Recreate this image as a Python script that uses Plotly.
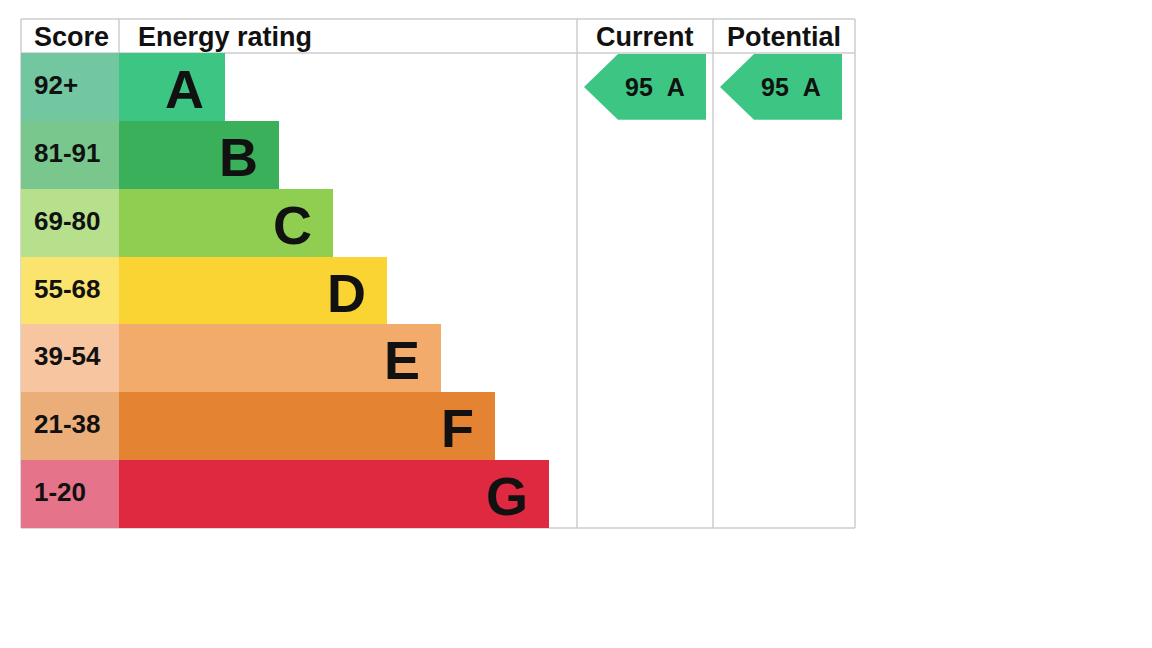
import plotly.graph_objects as go

# ---- data ----
ratings = ["A", "B", "C", "D", "E", "F", "G"]
score_ranges = ["92+", "81-91", "69-80", "55-68", "39-54", "21-38", "1-20"]
band_min = [92, 81, 69, 55, 39, 21, 1]
rating_rank = [1, 2, 3, 4, 5, 6, 7]
bar_colors = ["#3dc683", "#3bb05b", "#8fce50", "#f9d432", "#f2ab6b", "#e48433", "#de2941"]
score_colors = ["#72c7a1", "#79c78c", "#b6e08c", "#fae46d", "#f7c6a1", "#ecae79", "#e5738a"]
current_score = 95
potential_score = 95
headers = ["Score", "Energy rating", "Current", "Potential"]

# ---- layout geometry (pixels) ----
W, H = 1152, 648
TOP, HEAD_BOT, BOT = 19, 53, 528
X_LEFT, X_SCORE, X_CUR, X_POT, X_RIGHT = 21, 119, 577, 713, 855
BAR_BASE_LEN, BAR_STEP = 52, 54
LINE = "#cccccc"
FONT = "Liberation Sans, Arial, sans-serif"

rows = list(range(len(ratings)))
bar_len = [BAR_BASE_LEN + BAR_STEP * k for k in rating_rank]


def rating_index(score):
    for i, m in enumerate(band_min):
        if score >= m:
            return i
    return len(band_min) - 1


fig = go.Figure()

# score cells
fig.add_trace(go.Bar(
    orientation="h", y=rows, x=[X_SCORE - X_LEFT] * len(rows), base=X_LEFT,
    width=1, marker=dict(color=score_colors, line=dict(width=0)),
    hoverinfo="skip", showlegend=False))

# energy rating bars
fig.add_trace(go.Bar(
    orientation="h", y=rows, x=bar_len, base=X_SCORE,
    width=1, marker=dict(color=bar_colors, line=dict(width=0)),
    hoverinfo="skip", showlegend=False))

annotations = []

# score labels
for r, s in zip(rows, score_ranges):
    annotations.append(dict(x=X_LEFT + 11, y=r, xref="x", yref="y", text=f"<b>{s}</b>",
                            showarrow=False, xanchor="left", yanchor="middle", yshift=2,
                            font=dict(family=FONT, size=26, color="#111111")))

# rating letters
for r, L, lt in zip(rows, bar_len, ratings):
    annotations.append(dict(x=X_SCORE + L - 19, y=r, xref="x", yref="y", text=f"<b>{lt}</b>",
                            showarrow=False, xanchor="right", yanchor="middle", yshift=-2,
                            font=dict(family=FONT, size=54, color="#111111")))

# arrows for current / potential
ARROW_W, ARROW_HALF, ARROW_TIP = 122, 0.485, 34
for col_left, score in [(X_CUR, current_score), (X_POT, potential_score)]:
    r = rating_index(score)
    tip = col_left + 7
    right = tip + ARROW_W
    sh = tip + ARROW_TIP
    fig.add_trace(go.Scatter(
        x=[tip, sh, right, right, sh, tip],
        y=[r, r - ARROW_HALF, r - ARROW_HALF, r + ARROW_HALF, r + ARROW_HALF, r],
        fill="toself", fillcolor=bar_colors[r], line=dict(width=0, color=bar_colors[r]),
        mode="lines", hoverinfo="skip", showlegend=False))
    annotations.append(dict(x=tip + 71, y=r, xref="x", yref="y",
                            text=f"<b>{score}\u00a0\u00a0{ratings[r]}</b>",
                            showarrow=False, xanchor="center", yanchor="middle", yshift=0,
                            font=dict(family=FONT, size=25, color="#111111")))


def py(p):
    return 1 - p / H


shapes = []
for yy in [TOP, HEAD_BOT, BOT]:
    shapes.append(dict(type="line", xref="x", yref="paper", x0=X_LEFT, x1=X_RIGHT,
                       y0=py(yy), y1=py(yy), line=dict(color=LINE, width=1.5), layer="below"))
for xx in [X_LEFT, X_CUR, X_POT, X_RIGHT]:
    shapes.append(dict(type="line", xref="x", yref="paper", x0=xx, x1=xx,
                       y0=py(TOP), y1=py(BOT), line=dict(color=LINE, width=1.5), layer="below"))
shapes.append(dict(type="line", xref="x", yref="paper", x0=X_SCORE, x1=X_SCORE,
                   y0=py(TOP), y1=py(HEAD_BOT), line=dict(color=LINE, width=1.5), layer="below"))

hy = py((TOP + HEAD_BOT) / 2)
head_pos = [(X_LEFT + 11, "left"), (X_SCORE + 17, "left"),
            ((X_CUR + X_POT) / 2, "center"), ((X_POT + X_RIGHT) / 2, "center")]
for (hx, anchor), txt in zip(head_pos, headers):
    annotations.append(dict(x=hx, y=hy, xref="x", yref="paper", text=f"<b>{txt}</b>",
                            showarrow=False, xanchor=anchor, yanchor="middle", yshift=-1,
                            font=dict(family=FONT, size=27, color="#111111")))

fig.update_layout(
    width=W, height=H, margin=dict(l=0, r=0, t=0, b=0),
    paper_bgcolor="white", plot_bgcolor="white",
    bargap=0, barmode="overlay",
    xaxis=dict(range=[0, W], domain=[0, 1], visible=False, fixedrange=True),
    yaxis=dict(range=[len(rows) - 0.5, -0.5], domain=[py(BOT), py(HEAD_BOT)],
               visible=False, fixedrange=True),
    shapes=shapes, annotations=annotations, showlegend=False,
)

fig.write_html("out.html")
